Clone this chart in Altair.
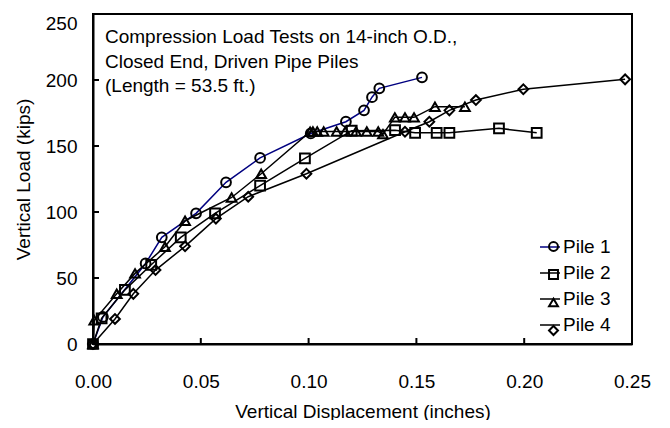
import altair as alt
import pandas as pd

# ---- data ----
pile1_x = [0.0, 0.0046, 0.0244, 0.0319, 0.0478, 0.0617, 0.0775, 0.1010, 0.1173, 0.1257, 0.1294, 0.1328, 0.1526]
pile1_y = [0, 20.5, 61, 80.8, 99, 122.5, 141, 159.5, 168.4, 177, 187, 193.7, 202]

pile2_x = [0.0, 0.0040, 0.0148, 0.0270, 0.0407, 0.0566, 0.0775, 0.0983, 0.1200, 0.1401, 0.1494, 0.1594, 0.1653, 0.1883, 0.2058]
pile2_y = [0, 19.5, 41, 60, 80.8, 99, 120, 140.7, 161.6, 162, 160, 160, 160, 163.4, 160]

pile3_x = [0.0, 0.0006, 0.0110, 0.0195, 0.0334, 0.0427, 0.0643, 0.0780, 0.1007, 0.1020, 0.1040, 0.1070,
           0.1130, 0.1170, 0.1220, 0.1270, 0.1323, 0.1345, 0.1400, 0.1447, 0.1489, 0.1586, 0.1725]
pile3_y = [0, 18, 38, 53.5, 73.7, 93.4, 111, 129, 160.8, 161, 161, 161,
           161, 161, 161, 161, 161, 159, 171.7, 171.7, 171.7, 179.8, 179.8]

pile4_x = [0.0, 0.0102, 0.0187, 0.0290, 0.0427, 0.0570, 0.0720, 0.0990, 0.1447, 0.1560, 0.1653, 0.1776, 0.1996, 0.2468]
pile4_y = [0, 19, 38, 56, 74, 95, 111.6, 129, 160.8, 168.4, 177, 184.8, 193, 200.5]

pile_names = ["Pile 1", "Pile 2", "Pile 3", "Pile 4"]
line_colors = ["#000080", "black", "black", "black"]
marker_shapes = ["circle", "square", "triangle-up", "diamond"]

x_ticks = [0.0, 0.05, 0.10, 0.15, 0.20, 0.25]
y_ticks = [0, 50, 100, 150, 200, 250]

note_lines = ["Compression Load Tests on 14-inch O.D.,",
              "Closed End, Driven Pipe Piles",
              "(Length = 53.5 ft.)"]

# ---- build table ----
rows = []
for name, xs, ys in zip(pile_names, [pile1_x, pile2_x, pile3_x, pile4_x], [pile1_y, pile2_y, pile3_y, pile4_y]):
    for i, (xv, yv) in enumerate(zip(xs, ys)):
        rows.append({"pile": name, "pile_m": name, "idx": i, "disp": xv, "load": yv})
df = pd.DataFrame(rows)

FONT = "Liberation Sans"
W, H = 539, 330

xscale = alt.Scale(domain=[0, 0.25], nice=False, zero=False)
yscale = alt.Scale(domain=[0, 250], nice=False)

x_enc = alt.X("disp:Q", scale=xscale,
              axis=alt.Axis(values=x_ticks, format=".2f", title="Vertical Displacement (inches)",
                            labelPadding=28, labelFlush=False, titleY=73, titleBaseline="alphabetic"))
y_enc = alt.Y("load:Q", scale=yscale,
              axis=alt.Axis(values=y_ticks, title="Vertical Load (kips)", labelPadding=16,
                            labelFlush=False,
                            labelBaseline={"condition": {"test": "datum.value >= 250", "value": "top"},
                                           "value": "middle"},
                            titleX=-64, titleBaseline="alphabetic"))

lines = alt.Chart(df).mark_line(strokeWidth=1.5).encode(
    x=x_enc, y=y_enc,
    color=alt.Color("pile:N", scale=alt.Scale(domain=pile_names, range=line_colors),
                    legend=alt.Legend(title=None, orient="none", legendX=446, legendY=222,
                                      symbolType="stroke", symbolSize=400, symbolStrokeWidth=1.5,
                                      labelFontSize=19, labelFont=FONT, labelColor="black",
                                      labelOffset=2, rowPadding=5, padding=0)),
    order="idx:Q",
)

points = alt.Chart(df).mark_point(filled=False, strokeWidth=2, color="black", size=95, opacity=1).encode(
    x="disp:Q", y="load:Q",
    shape=alt.Shape("pile_m:N", scale=alt.Scale(range=marker_shapes),
                    legend=alt.Legend(title=None, orient="none", legendX=451, legendY=223,
                                      symbolSize=80, symbolStrokeWidth=2, symbolStrokeColor="black",
                                      symbolFillColor="transparent",
                                      labelFontSize=19, labelFont=FONT, labelExpr="''",
                                      rowPadding=8, padding=0)),
)

tick_x_df = pd.DataFrame({"t": x_ticks[1:-1]})
tick_y_df = pd.DataFrame({"t": y_ticks[1:-1]})
xticks = alt.Chart(tick_x_df).mark_rule(color="black", strokeWidth=2).encode(
    x=alt.X("t:Q", scale=xscale), y=alt.value(H), y2=alt.value(H - 6))
yticks = alt.Chart(tick_y_df).mark_rule(color="black", strokeWidth=2).encode(
    y=alt.Y("t:Q", scale=yscale), x=alt.value(0), x2=alt.value(6))

note = alt.Chart(pd.DataFrame({"txt": ["\n".join(note_lines)]})).mark_text(
    align="left", baseline="alphabetic", font=FONT, fontSize=19, lineHeight=24.5, color="black",
    lineBreak="\n"
).encode(text="txt:N", x=alt.value(12), y=alt.value(29))

chart = alt.layer(lines, points, xticks, yticks, note).resolve_scale(
    shape="independent"
).properties(
    width=W, height=H,
    background="white",
    padding={"left": 85, "top": 6, "right": 30, "bottom": 76},
    autosize=alt.AutoSizeParams(type="none"),
).configure_view(
    stroke="black", strokeWidth=2
).configure_axis(
    grid=False, ticks=False, tickSize=0, domainColor="black", domainWidth=2,
    labelFont=FONT, labelFontSize=19, labelColor="black",
    titleFont=FONT, titleFontSize=19, titleColor="black", titleFontWeight="normal",
)

chart.save("out.html", embed_options={"renderer": "svg", "actions": False})
